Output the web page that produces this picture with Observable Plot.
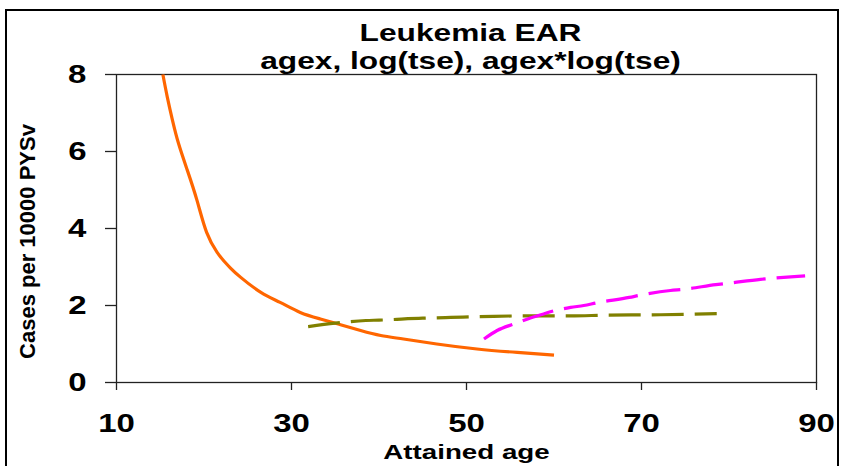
<!DOCTYPE html>
<html>
<head>
<meta charset="utf-8">
<script src="https://cdn.jsdelivr.net/npm/d3@7"></script>
<script src="https://cdn.jsdelivr.net/npm/@observablehq/plot@0.6"></script>
<style>
  html, body { margin: 0; padding: 0; background: #fff; }
  #wrap { position: relative; width: 845px; height: 466px; overflow: hidden; }
  #border { position: absolute; left: 5px; top: 9px; width: 834px; height: 500px; box-sizing: border-box; border: 2px solid #000; pointer-events: none; }
</style>
</head>
<body>
<div id="wrap"><div id="chart"></div><div id="border"></div></div>
<script>
const titleText = "Leukemia EAR";
const subtitleText = "agex, log(tse), agex*log(tse)";
const xLabel = "Attained age";
const yLabel = "Cases per 10000 PYSv";
const xTicks = [10, 30, 50, 70, 90];
const yTicks = [0, 2, 4, 6, 8];

// Orange solid series
const orangeAge = [15.3, 15.8, 16.4, 17.1, 18.1, 19.2, 20.3, 21.5, 22.3, 23.0, 24.2, 26.5, 28.7, 31.0, 33.3, 35.6, 37.9, 40.2, 42.8, 46.6, 51.2, 55.8, 60.0];
const orangeVal = [8.0, 7.42, 6.81, 6.2, 5.51, 4.73, 3.90, 3.38, 3.15, 2.98, 2.73, 2.34, 2.08, 1.82, 1.65, 1.50, 1.35, 1.22, 1.13, 1.0, 0.87, 0.78, 0.71];

// Olive dashed series
const oliveAge = [31.9, 35, 38.5, 40, 45, 48.2, 53.1, 57, 61.9, 66, 72.2, 78.6];
const oliveVal = [1.45, 1.54, 1.61, 1.62, 1.67, 1.69, 1.72, 1.73, 1.73, 1.75, 1.76, 1.79];

// Magenta dashed series
const magentaAge = [52.0, 53.5, 55.4, 57, 58.5, 59.8, 61.9, 63.4, 64.9, 68.6, 69.9, 73.3, 74.8, 78.5, 80.0, 83.6, 85.1, 88.7];
const magentaVal = [1.13, 1.35, 1.52, 1.65, 1.76, 1.85, 1.95, 2.0, 2.07, 2.21, 2.27, 2.39, 2.42, 2.54, 2.58, 2.68, 2.71, 2.77];

const toRows = (ages, vals) => ages.map((a, i) => ({age: a, val: vals[i]}));
const orange = toRows(orangeAge, orangeVal);
const olive = toRows(oliveAge, oliveVal);
const magenta = toRows(magentaAge, magentaVal);

const font = "'Liberation Sans', Arial, sans-serif";

const chart = Plot.plot({
  width: 845,
  height: 466,
  marginLeft: 116,
  marginRight: 29,
  marginTop: 74,
  marginBottom: 84,
  x: {domain: [10, 90]},
  y: {domain: [0, 8]},
  style: {fontFamily: font, background: "transparent", color: "#000", overflow: "visible"},
  marks: [
    Plot.axisX({ticks: xTicks, tickSize: 8, tickPadding: 24, fontSize: 25, fontWeight: "bold", label: null, stroke: "#222", strokeWidth: 1.3}),
    Plot.axisY({ticks: yTicks, tickSize: 11, tickPadding: 19, fontSize: 25, fontWeight: "bold", label: null, stroke: "#222", strokeWidth: 1.3}),
    Plot.frame({stroke: "#222", strokeWidth: 1.3}),
    Plot.line(orange, {x: "age", y: "val", stroke: "#FF6600", strokeWidth: 3.2, curve: "natural", strokeLinecap: "butt"}),
    Plot.line(olive, {x: "age", y: "val", stroke: "#808000", strokeWidth: 3.2, curve: "monotone-x", strokeDasharray: "32,11", strokeLinecap: "butt"}),
    Plot.line(magenta, {x: "age", y: "val", stroke: "#FF00FF", strokeWidth: 3.2, curve: "monotone-x", strokeDasharray: "32,11", strokeLinecap: "butt"}),
    Plot.text([titleText], {text: d => d, frameAnchor: "top", dx: 4, dy: -34, lineAnchor: "bottom", fontSize: 24, fontWeight: "bold"}),
    Plot.text([subtitleText], {text: d => d, frameAnchor: "top", dx: 4, dy: -6, lineAnchor: "bottom", fontSize: 24, fontWeight: "bold"}),
    Plot.text([xLabel], {text: d => d, frameAnchor: "bottom", dy: 76, lineAnchor: "bottom", fontSize: 21, fontWeight: "bold"}),
    Plot.text([yLabel], {text: d => d, frameAnchor: "left", textAnchor: "middle", dx: -82, dy: 13, rotate: -90, lineAnchor: "bottom", fontSize: 22, fontWeight: "bold"})
  ]
});

document.getElementById("chart").appendChild(chart);

// The reference's horizontal texts are stretched sideways; mimic it
const S = 1.32;
chart.querySelectorAll("text").forEach(t => {
  if (t.textContent.startsWith("Cases")) return;
  const b = t.getBBox();
  const anchor = getComputedStyle(t).textAnchor;
  const ax = anchor === "middle" ? b.x + b.width / 2 : anchor === "end" ? b.x + b.width : b.x;
  const prev = t.getAttribute("transform") || "";
  t.setAttribute("transform", `${prev} translate(${ax},0) scale(${S},1) translate(${-ax},0)`);
});
</script>
</body>
</html>
